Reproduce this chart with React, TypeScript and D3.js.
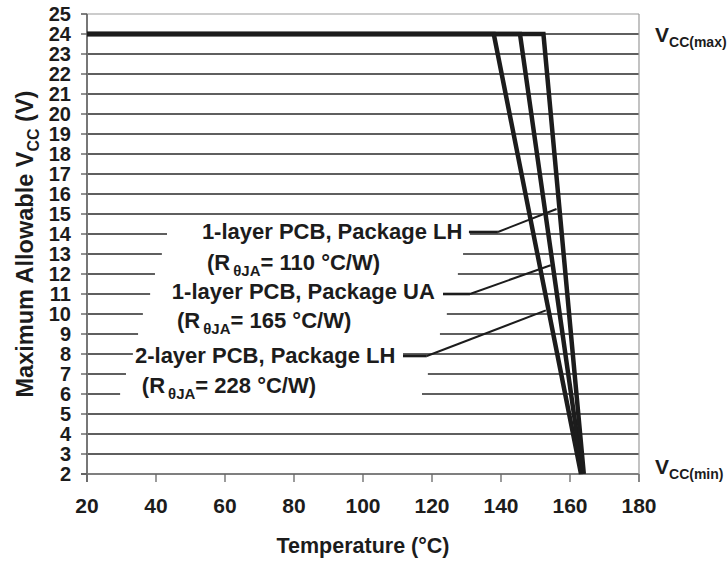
import * as d3 from "d3";

const width = 728;
const height = 561;
const margin = { top: 14, right: 89, bottom: 87, left: 87 };

// axes
const xTicks = [20, 40, 60, 80, 100, 120, 140, 160, 180];
const yTicks = d3.range(2, 26);

// derating curves: [temperature °C, Vcc V]
const curveLH1 = [[20, 24], [152.3, 24], [164.0, 2]];
const curveUA = [[20, 24], [145.5, 24], [163.6, 2]];
const curveLH2 = [[20, 24], [137.9, 24], [163.2, 2]];

// annotation labels
const labelLines = [
  "1-layer PCB, Package LH",
  "1-layer PCB, Package UA",
  "2-layer PCB, Package LH",
];
const labelTheta = ["110", "165", "228"];

// leader lines: horizontal start, bend, end on curve
const leaders = [
  [[130.7, 14.1], [139.1, 14.1], [156.1, 15.25]],
  [[123.2, 11.0], [131.0, 11.0], [154.4, 12.44]],
  [[111.6, 7.9], [118.5, 7.9], [153.0, 10.18]],
];

// gaps in the gridlines behind the label boxes: [volt, from °C, to °C]
const gridGaps = [
  [14, 43.2, 131.0],
  [13, 41.7, 129.0],
  [12, 39.7, 127.5],
  [11, 38.3, 123.2],
  [10, 36.2, 124.3],
  [9, 34.8, 122.3],
  [8, 33.3, 111.6],
  [7, 31.3, 118.8],
  [6, 29.6, 117.1],
];

const font = "'Liberation Sans', Arial, sans-serif";
const ink = "#1c1c1c";

function App() {
  const x = d3
    .scaleLinear()
    .domain([20, 180])
    .range([margin.left, width - margin.right]);
  const y = d3
    .scaleLinear()
    .domain([2, 25])
    .range([height - margin.bottom, margin.top]);

  const line = d3
    .line()
    .x((d) => x(d[0]))
    .y((d) => y(d[1]));

  const x0 = x(20);
  const x1 = x(180);
  const yBottom = y(2);
  const yTop = y(25);

  // gridline segments
  const gridSegs = [];
  yTicks.forEach((v) => {
    if (v === 25 || v === 2) return;
    const gap = gridGaps.find((g) => g[0] === v);
    if (gap) {
      gridSegs.push([x0, x(gap[1]), y(v)]);
      gridSegs.push([x(gap[2]), x1, y(v)]);
    } else {
      gridSegs.push([x0, x1, y(v)]);
    }
  });

  // label placement (°C of left edge, V of baseline)
  const labelPos = [
    { t1: 53.3, v1: 13.75, t2: 54.8, v2: 12.2 },
    { t1: 44.6, v1: 10.75, t2: 46.1, v2: 9.3 },
    { t1: 33.9, v1: 7.55, t2: 35.9, v2: 6.05 },
  ];

  return (
    <svg width={width} height={height} style={{ display: "block", position: "absolute", left: 0, top: 0 }}>
      <rect width={width} height={height} fill="#fff" />

      {/* gridlines */}
      {gridSegs.map((s, i) => (
        <line key={"g" + i} x1={s[0]} x2={s[1]} y1={s[2]} y2={s[2]} stroke="#2a2a2a" strokeWidth={1.3} />
      ))}
      <line x1={x0 - 6} x2={x1} y1={yBottom} y2={yBottom} stroke="#555" strokeWidth={1.4} />

      {/* frame */}
      <line x1={x0 - 6} x2={x1} y1={yTop} y2={yTop} stroke="#9a9a9a" strokeWidth={1.2} />
      <line x1={x1} x2={x1} y1={yTop} y2={yBottom + 8} stroke="#9a9a9a" strokeWidth={1.2} />
      <line x1={x0} x2={x0} y1={yTop} y2={yBottom + 8} stroke="#777" strokeWidth={2} />

      {/* ticks */}
      {yTicks.map((v) => (
        <line key={"yt" + v} x1={x0 - 6} x2={x0} y1={y(v)} y2={y(v)} stroke="#555" strokeWidth={1.3} />
      ))}
      {xTicks.map((t) => (
        <line key={"xt" + t} x1={x(t)} x2={x(t)} y1={yBottom} y2={yBottom + 8} stroke="#666" strokeWidth={1.3} />
      ))}

      {/* tick labels */}
      {yTicks.map((v) => (
        <text key={"yl" + v} x={71} y={y(v) + 7} textAnchor="end" fontFamily={font} fontWeight="bold" fontSize={20} fill={ink}>
          {v}
        </text>
      ))}
      {xTicks.map((t) => (
        <text key={"xl" + t} x={x(t)} y={513} textAnchor="middle" fontFamily={font} fontWeight="bold" fontSize={21} fill={ink}>
          {t}
        </text>
      ))}

      {/* axis titles */}
      <text x={363} y={553} textAnchor="middle" fontFamily={font} fontWeight="bold" fontSize={21.5} fill={ink}>
        Temperature (°C)
      </text>
      <text
        transform="translate(33,244) rotate(-90)"
        textAnchor="middle"
        fontFamily={font}
        fontWeight="bold"
        fontSize={23.5}
        fill={ink}
      >
        Maximum Allowable V
        <tspan fontSize={16} dy={6}>CC</tspan>
        <tspan dy={-6}> (V)</tspan>
      </text>

      {/* curves */}
      {[curveLH2, curveUA, curveLH1].map((c, i) => (
        <path key={"c" + i} d={line(c)} fill="none" stroke={ink} strokeWidth={4.5} strokeLinejoin="miter" />
      ))}

      {/* leaders */}
      {leaders.map((l, i) => (
        <g key={"ld" + i}>
          <line x1={x(l[0][0])} x2={x(l[1][0])} y1={y(l[0][1])} y2={y(l[1][1])} stroke={ink} strokeWidth={2.6} />
          <line x1={x(l[1][0])} x2={x(l[2][0])} y1={y(l[1][1])} y2={y(l[2][1])} stroke={ink} strokeWidth={2} />
        </g>
      ))}

      {/* labels */}
      {labelLines.map((txt, i) => (
        <g key={"lb" + i} fontFamily={font} fontWeight="bold" fill={ink}>
          <text x={x(labelPos[i].t1)} y={y(labelPos[i].v1)} fontSize={22}>
            {txt}
          </text>
          <text x={x(labelPos[i].t2)} y={y(labelPos[i].v2)} fontSize={22}>
            (R
            <tspan fontSize={15} dy={6} dx={3}>θJA</tspan>
            <tspan dy={-6}>= {labelTheta[i]} °C/W)</tspan>
          </text>
        </g>
      ))}

      {/* Vcc limits */}
      <text x={655} y={42} fontFamily={font} fontWeight="bold" fontSize={21} fill={ink}>
        V<tspan fontSize={14} dy={5}>CC(max)</tspan>
      </text>
      <text x={655} y={474} fontFamily={font} fontWeight="bold" fontSize={21} fill={ink}>
        V<tspan fontSize={14} dy={5}>CC(min)</tspan>
      </text>
    </svg>
  );
}

export default App;
